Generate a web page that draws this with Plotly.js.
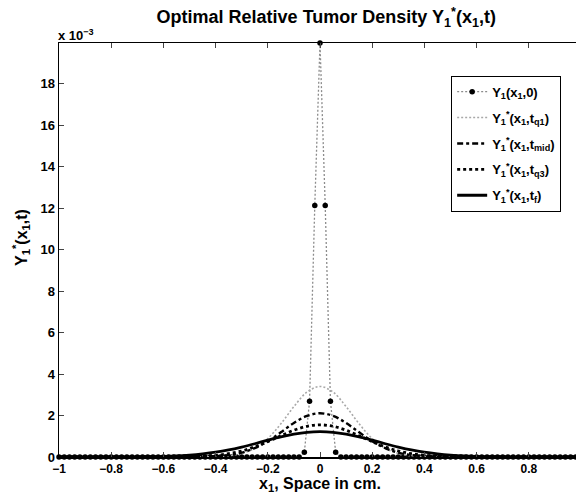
<!DOCTYPE html>
<html>
<head>
<meta charset="utf-8">
<script src="https://cdn.plot.ly/plotly-3.0.1.min.js"></script>
<style>
html,body{margin:0;padding:0;overflow:hidden;background:#fff;width:576px;height:494px;}
#chart{width:590px;height:494px;}
</style>
</head>
<body>
<div id="chart"></div>
<script>
// Spatial grid of the initial condition (step 0.02)
const xInit = [-1.00,-0.98,-0.96,-0.94,-0.92,-0.90,-0.88,-0.86,-0.84,-0.82,
  -0.80,-0.78,-0.76,-0.74,-0.72,-0.70,-0.68,-0.66,-0.64,-0.62,
  -0.60,-0.58,-0.56,-0.54,-0.52,-0.50,-0.48,-0.46,-0.44,-0.42,
  -0.40,-0.38,-0.36,-0.34,-0.32,-0.30,-0.28,-0.26,-0.24,-0.22,
  -0.20,-0.18,-0.16,-0.14,-0.12,-0.10,-0.08,-0.06,-0.04,-0.02,
  0.00,0.02,0.04,0.06,0.08,0.10,0.12,0.14,0.16,0.18,
  0.20,0.22,0.24,0.26,0.28,0.30,0.32,0.34,0.36,0.38,
  0.40,0.42,0.44,0.46,0.48,0.50,0.52,0.54,0.56,0.58,
  0.60,0.62,0.64,0.66,0.68,0.70,0.72,0.74,0.76,0.78,
  0.80,0.82,0.84,0.86,0.88,0.90,0.92,0.94,0.96,0.98,1.00];
// Y1(x1,0) in units of 1e-3
const yInit = [0,0,0,0,0,0,0,0,0,0,
  0,0,0,0,0,0,0,0,0,0,
  0,0,0,0,0,0,0,0,0,0,
  0,0,0,0,0,0,0,0,0,0,
  0,0,0,0,0,0,0,0.23,2.69,12.12,
  19.96,12.12,2.69,0.23,0,0,0,0,0,0,
  0,0,0,0,0,0,0,0,0,0,
  0,0,0,0,0,0,0,0,0,0,
  0,0,0,0,0,0,0,0,0,0,
  0,0,0,0,0,0,0,0,0,0,0];
// Grid for later-time curves (step 0.05)
const xCurve = [-1.00,-0.95,-0.90,-0.85,-0.80,-0.75,-0.70,-0.65,-0.60,-0.55,
  -0.50,-0.45,-0.40,-0.35,-0.30,-0.25,-0.20,-0.15,-0.10,-0.05,
  0.00,0.05,0.10,0.15,0.20,0.25,0.30,0.35,0.40,0.45,
  0.50,0.55,0.60,0.65,0.70,0.75,0.80,0.85,0.90,0.95,1.00];
const yQ1 = [0,0,0,0,0,0,0,0,0,0,
  0,0,0.02,0.06,0.17,0.42,0.89,1.60,2.43,3.13,
  3.40,
  3.13,2.43,1.60,0.89,0.42,0.17,0.06,0.02,0,0,
  0,0,0,0,0,0,0,0,0,0];
const yMid = [0,0,0,0,0,0,0,0,0,0,
  0,0.01,0.04,0.09,0.21,0.43,0.76,1.19,1.64,1.98,
  2.11,
  1.98,1.64,1.19,0.76,0.43,0.21,0.09,0.04,0.01,0,
  0,0,0,0,0,0,0,0,0,0];
const yQ3 = [0,0,0,0,0,0,0,0,0,0,
  0.01,0.04,0.08,0.16,0.29,0.49,0.74,1.02,1.29,1.48,
  1.55,
  1.48,1.29,1.02,0.74,0.49,0.29,0.16,0.08,0.04,0.01,
  0,0,0,0,0,0,0,0,0,0];
const yF = [0,0,0,0,0,0,0.01,0.02,0.03,0.05,
  0.09,0.15,0.23,0.34,0.48,0.64,0.81,0.97,1.10,1.19,
  1.22,
  1.19,1.10,0.97,0.81,0.64,0.48,0.34,0.23,0.15,0.09,
  0.05,0.03,0.02,0.01,0,0,0,0,0,0];

const xTicks = [-1,-0.8,-0.6,-0.4,-0.2,0,0.2,0.4,0.6,0.8];
const xTickText = ['\u22121','\u22120.8','\u22120.6','\u22120.4','\u22120.2','0','0.2','0.4','0.6','0.8'];
const yTicks = [0,2,4,6,8,10,12,14,16,18];
const yTickText = ['0','2','4','6','8','10','12','14','16','18'];

const F = 'Liberation Sans, Arial, sans-serif';

const traces = [
  {x:xInit, y:yInit, type:'scatter', mode:'lines+markers', cliponaxis:false, legendgroup:'g0',
   name:'<b>Y<sub>1</sub>(x<sub>1</sub>,0)</b>',
   line:{color:'#8c8c8c', width:1.3, dash:'2px,2px'},
   marker:{color:'#000', size:5.5}},
  {x:xCurve, y:yQ1, type:'scatter', mode:'lines', legendgroup:'g1',
   line:{shape:'spline', color:'#a8a8a8', width:1.6, dash:'2px,2px'},
   name:'<b>Y<sub>1</sub><sup>*</sup>(x<sub>1</sub>,t<sub>q1</sub>)</b>'},
  {x:xCurve, y:yMid, type:'scatter', mode:'lines', legendgroup:'g2',
   line:{shape:'spline', color:'#000', width:2.4, dash:'6px,3px,3px,3px'},
   name:'<b>Y<sub>1</sub><sup>*</sup>(x<sub>1</sub>,t<sub>mid</sub>)</b>'},
  {x:xCurve, y:yQ3, type:'scatter', mode:'lines', legendgroup:'g3',
   line:{shape:'spline', color:'#000', width:2.8, dash:'3px,3px'},
   name:'<b>Y<sub>1</sub><sup>*</sup>(x<sub>1</sub>,t<sub>q3</sub>)</b>'},
  {x:xCurve, y:yF, type:'scatter', mode:'lines', legendgroup:'g4',
   line:{shape:'spline', color:'#000', width:2.8},
   name:'<b>Y<sub>1</sub><sup>*</sup>(x<sub>1</sub>,t<sub>f</sub>)</b>'}
];

const layout = {
  width:590, height:494,
  margin:{l:59, r:9, t:43, b:37},
  paper_bgcolor:'#fff', plot_bgcolor:'#fff',
  font:{family:F, color:'#000', size:13},
  title:{text:'<b>Optimal Relative Tumor Density Y<sub>1</sub><sup>*</sup>(x<sub>1</sub>,t)</b>',
    font:{family:F, size:18, color:'#000'}, x:0.553, xref:'container', xanchor:'center', y:0.966, yanchor:'middle'},
  xaxis:{range:[-1,1], tickvals:xTicks, ticktext:xTickText, ticks:'inside', ticklen:5, tickwidth:1,
    showline:true, linecolor:'#000', linewidth:1.5, mirror:'ticks', showgrid:false, zeroline:false,
    tickfont:{family:F, size:12, color:'#000', weight:'bold'}},
  yaxis:{range:[0,19.96], tickvals:yTicks, ticktext:yTickText, ticks:'inside', ticklen:5, tickwidth:1,
    showline:true, linecolor:'#000', linewidth:1.5, mirror:'ticks', showgrid:false, zeroline:false,
    tickfont:{family:F, size:13, color:'#000', weight:'bold'}},
  showlegend:true,
  legend:{x:0.962, y:0.921, xanchor:'right', yanchor:'top', bgcolor:'#fff', bordercolor:'#000', borderwidth:1,
    font:{family:F, size:13, color:'#000'}, itemwidth:30, traceorder:'grouped', tracegroupgap:6},
  annotations:[
    {text:'<b>x 10<sup>\u22123</sup></b>', xref:'paper', yref:'paper', x:0, y:1, xanchor:'left', yanchor:'bottom',
     showarrow:false, font:{family:F, size:13, color:'#000'}, xshift:-3, yshift:-2},
    {text:'<b>x<sub>1</sub>, Space in cm.</b>', xref:'paper', yref:'paper', x:0.5, y:-0.066, xanchor:'center', yanchor:'middle',
     showarrow:false, font:{family:F, size:16, color:'#000'}},
    {text:'<b>Y<sub>1</sub><sup>*</sup>(x<sub>1</sub>,t)</b>', xref:'paper', yref:'paper', x:-0.074, y:0.53, xanchor:'center', yanchor:'middle',
     textangle:-90, showarrow:false, font:{family:F, size:16, color:'#000'}}
  ]
};

Plotly.newPlot('chart', traces, layout, {displayModeBar:false, staticPlot:true});
</script>
</body>
</html>
